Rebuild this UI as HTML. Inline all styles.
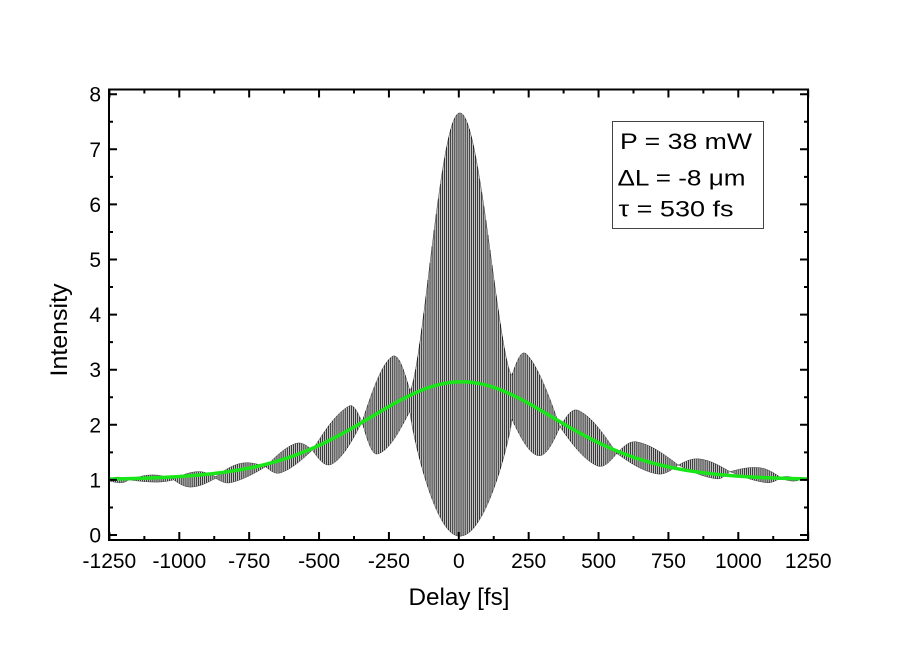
<!DOCTYPE html>
<html>
<head>
<meta charset="utf-8">
<style>
html,body{margin:0;padding:0;background:#fff;}
svg{display:block;}
text{font-family:"Liberation Sans",Arial,sans-serif;fill:#000;}
</style>
</head>
<body>
<svg id="chart" width="900" height="661" viewBox="0 0 900 661" xmlns="http://www.w3.org/2000/svg">
<rect x="0" y="0" width="900" height="661" fill="#fff"/>
<g id="data"></g>
<path id="green" d="" fill="none" stroke="rgb(25,230,25)" stroke-width="3.5" stroke-linejoin="round"/>
<g id="axes" stroke="#000" stroke-width="2" fill="none"></g>
<rect x="109" y="89.5" width="699" height="450.5" fill="none" stroke="#000" stroke-width="2"/>
<g id="ylabels" font-size="21" text-anchor="end">
<text x="101" y="542.5">0</text>
<text x="101" y="487.4">1</text>
<text x="101" y="432.3">2</text>
<text x="101" y="377.2">3</text>
<text x="101" y="322.1">4</text>
<text x="101" y="267">5</text>
<text x="101" y="211.9">6</text>
<text x="101" y="156.8">7</text>
<text x="101" y="101.7">8</text>
</g>
<g id="xlabels" font-size="21" text-anchor="middle">
<text x="109.4" y="568">-1250</text>
<text x="179.3" y="568">-1000</text>
<text x="249.2" y="568">-750</text>
<text x="319.1" y="568">-500</text>
<text x="388.9" y="568">-250</text>
<text x="458.8" y="568">0</text>
<text x="528.7" y="568">250</text>
<text x="598.6" y="568">500</text>
<text x="668.4" y="568">750</text>
<text x="738.3" y="568">1000</text>
<text x="808.2" y="568">1250</text>
</g>
<text x="459" y="605" font-size="24" text-anchor="middle" textLength="101" lengthAdjust="spacingAndGlyphs">Delay [fs]</text>
<text transform="translate(67,330) rotate(-90)" x="0" y="0" font-size="24" text-anchor="middle" textLength="93" lengthAdjust="spacingAndGlyphs">Intensity</text>
<rect x="612.5" y="121.5" width="151" height="107" fill="#fff" stroke="#444" stroke-width="1"/>
<text x="620" y="149" font-size="22" textLength="132" lengthAdjust="spacingAndGlyphs">P = 38 mW</text>
<text x="617.5" y="185.5" font-size="22" textLength="128" lengthAdjust="spacingAndGlyphs">ΔL = -8 μm</text>
<text x="618.5" y="216.5" font-size="22" textLength="115" lengthAdjust="spacingAndGlyphs">τ = 530 fs</text>
</svg>
<script>
(function(){
var NS="http://www.w3.org/2000/svg";
function X(t){return 458.8+0.2795*t;}
function Y(v){return 535-55.1*v;}
var nodes=[
{t:-1250,u:1.02,l:0.98},
{t:-1180,u:1.00,l:1.00},
{t:-1020,u:1.02,l:1.00},
{t:-870,u:1.06,l:1.03},
{t:-691,u:1.24,l:1.24},
{t:-524,u:1.54,l:1.54},
{t:-346,u:2.05,l:2.05},
{t:-175,u:2.62,l:2.25},
{t:190,u:2.90,l:2.10},
{t:362,u:1.96,l:1.96},
{t:565,u:1.48,l:1.48},
{t:785,u:1.27,l:1.27},
{t:970,u:1.15,l:1.15},
{t:1150,u:1.05,l:1.03},
{t:1215,u:1.01,l:0.99}
];
var lobes=[
{cu:-1215,pu:1.05,cl:-1205,pl:0.95},
{cu:-1100,pu:1.09,cl:-1080,pl:0.96},
{cu:-935,pu:1.15,cl:-958,pl:0.87},
{cu:-780,pu:1.30,cl:-816,pl:0.95},
{cu:-584,pu:1.66,cl:-637,pl:1.13},
{cu:-393,pu:2.34,cl:-453,pl:1.29},
{cu:-238,pu:3.24,cl:-292,pl:1.47},
{cu:2,pu:7.66,cl:0,pl:-0.02,ku:1.5,kl:0.8},
{cu:243,pu:3.28,cl:285,pl:1.44},
{cu:428,pu:2.26,cl:493,pl:1.26},
{cu:636,pu:1.69,cl:708,pl:1.11},
{cu:862,pu:1.38,cl:922,pl:1.02},
{cu:1077,pu:1.22,cl:1100,pl:0.95},
{cu:1180,pu:1.06,cl:1190,pl:0.98}
];
function env(t){
  var i=0;
  while(i<nodes.length-2 && t>nodes[i+1].t) i++;
  var a=nodes[i],b=nodes[i+1],lb=lobes[i];
  var span=b.t-a.t;
  var f=Math.max(0,Math.min(1,(t-a.t)/span));
  var bu=a.u+(b.u-a.u)*f, bl=a.l+(b.l-a.l)*f;
  var ku=lb.ku||1, kl=lb.kl||1;
  var su=t<=lb.cu?0.5*(t-a.t)/(lb.cu-a.t):0.5+0.5*(t-lb.cu)/(b.t-lb.cu);
  su=Math.max(0,Math.min(1,su));
  var buc=a.u+(b.u-a.u)*(lb.cu-a.t)/span;
  var U=bu+(lb.pu-buc)*Math.pow(Math.max(0,Math.sin(Math.PI*su)),ku);
  var sl=t<=lb.cl?0.5*(t-a.t)/(lb.cl-a.t):0.5+0.5*(t-lb.cl)/(b.t-lb.cl);
  sl=Math.max(0,Math.min(1,sl));
  var blc=a.l+(b.l-a.l)*(lb.cl-a.t)/span;
  var L=bl-(blc-lb.pl)*Math.pow(Math.max(0,Math.sin(Math.PI*sl)),kl);
  return [U,L];
}
var g=document.getElementById("data");
var up=[],lo=[];
for(var t=-1250;t<=1215.01;t+=2){
  var e=env(t);
  up.push(X(t).toFixed(2)+","+Y(e[0]).toFixed(2));
  lo.push(X(t).toFixed(2)+","+Y(e[1]).toFixed(2));
}
lo.reverse();
var poly=document.createElementNS(NS,"polygon");
poly.setAttribute("points",up.concat(lo).join(" "));
poly.setAttribute("fill","#c4c4c4");
poly.setAttribute("stroke","#444");
poly.setAttribute("stroke-width","0.5");
g.appendChild(poly);
var d="";
for(var t2=-1250;t2<=1215;t2+=7.4){
  var e2=env(t2);
  var x=X(t2).toFixed(2);
  d+="M"+x+" "+Y(e2[0]).toFixed(2)+"V"+Y(e2[1]).toFixed(2);
}
var p=document.createElementNS(NS,"path");
p.setAttribute("d",d);
p.setAttribute("stroke","#000");
p.setAttribute("stroke-width","0.7");
p.setAttribute("fill","none");
g.appendChild(p);
function A(u){
  u=Math.abs(u);
  if(u<1e-3) return 1;
  var s=Math.sinh(u);
  return 3*(u*Math.cosh(u)/s-1)/(s*s);
}
var gd="";
for(var t3=-1250;t3<=1250.01;t3+=4){
  var v=1+1.78*A((t3-10)/300.7);
  gd+=(gd?"L":"M")+X(t3).toFixed(2)+" "+Y(v).toFixed(2);
}
document.getElementById("green").setAttribute("d",gd);
var ax=document.getElementById("axes");
var td="";
for(var k=-1250;k<=1250;k+=125){
  var major=(k%250===0);
  var len=major?8:4;
  var xx=X(k).toFixed(2);
  td+="M"+xx+" 540V"+(540-len)+"M"+xx+" 89.5V"+(89.5+len);
}
for(var m=0;m<=16;m++){
  var vv=m*0.5;
  var yy=Y(vv).toFixed(2);
  var l2=(m%2===0)?8:4;
  td+="M109 "+yy+"H"+(109+l2)+"M808 "+yy+"H"+(808-l2);
}
var tp=document.createElementNS(NS,"path");
tp.setAttribute("d",td);
ax.appendChild(tp);
})();
</script>
</body>
</html>
